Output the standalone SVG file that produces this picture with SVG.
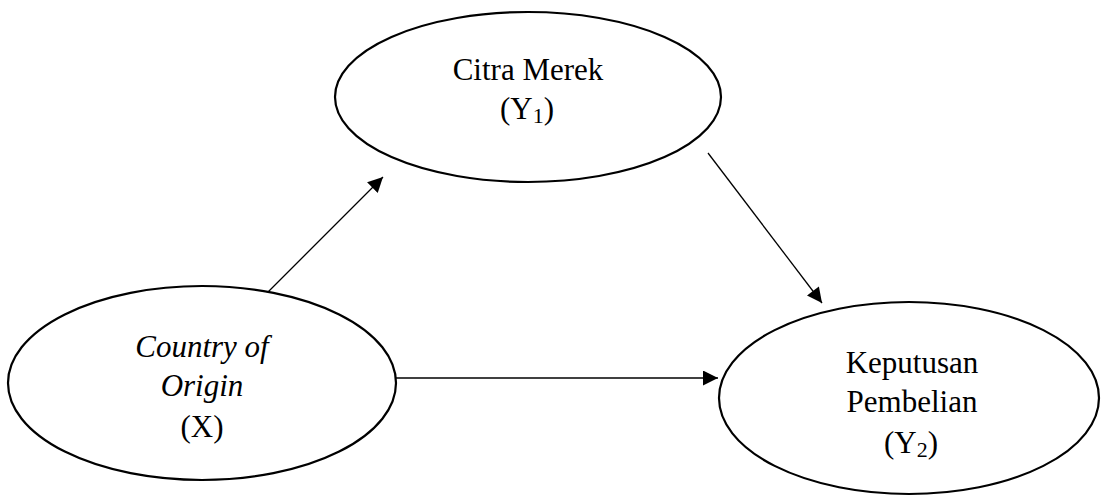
<svg xmlns="http://www.w3.org/2000/svg" width="1101" height="496" viewBox="0 0 1101 496">
<defs>
<style>
.node{fill:#fff;stroke:#000;stroke-width:2.2}
text{font-family:'Liberation Serif','DejaVu Serif',serif;font-size:31px;fill:#000;text-anchor:middle}
.i{font-style:italic}
.sub{font-size:22px}
.edge{stroke:#000;stroke-width:1.3;fill:none;marker-end:url(#arr)}
</style>
<marker id="arr" viewBox="0 0 10 10" refX="10" refY="5" markerWidth="16" markerHeight="15" markerUnits="userSpaceOnUse" orient="auto">
<path d="M0,0 L10,5 L0,10 z" fill="#000"/>
</marker>
</defs>
<rect width="1101" height="496" fill="#fff"/>
<g id="connectors">
<line class="edge" x1="268" y1="292" x2="383" y2="177"/>
<line class="edge" x1="708" y1="153" x2="822" y2="303"/>
<line class="edge" x1="395" y1="378" x2="718" y2="378"/>
</g>
<g id="node-citra">
<ellipse class="node" cx="528" cy="97" rx="193" ry="85"/>
<text x="528" y="80" font-family="Liberation Serif, serif">Citra Merek</text>
<text x="527" y="119" font-family="Liberation Serif, serif">(Y<tspan class="sub" dy="4">1</tspan><tspan dy="-4">)</tspan></text>
</g>
<g id="node-coo">
<ellipse class="node" cx="202" cy="383" rx="194" ry="97"/>
<text class="i" x="202" y="357" font-family="Liberation Serif, serif">Country of</text>
<text class="i" x="202" y="396" font-family="Liberation Serif, serif">Origin</text>
<text x="202" y="437" font-family="Liberation Serif, serif">(X)</text>
</g>
<g id="node-keputusan">
<ellipse class="node" cx="909" cy="398" rx="190" ry="96"/>
<text x="912" y="373" font-family="Liberation Serif, serif">Keputusan</text>
<text x="912" y="412" font-family="Liberation Serif, serif">Pembelian</text>
<text x="911" y="453" font-family="Liberation Serif, serif">(Y<tspan class="sub" dy="4">2</tspan><tspan dy="-4">)</tspan></text>
</g>
</svg>
